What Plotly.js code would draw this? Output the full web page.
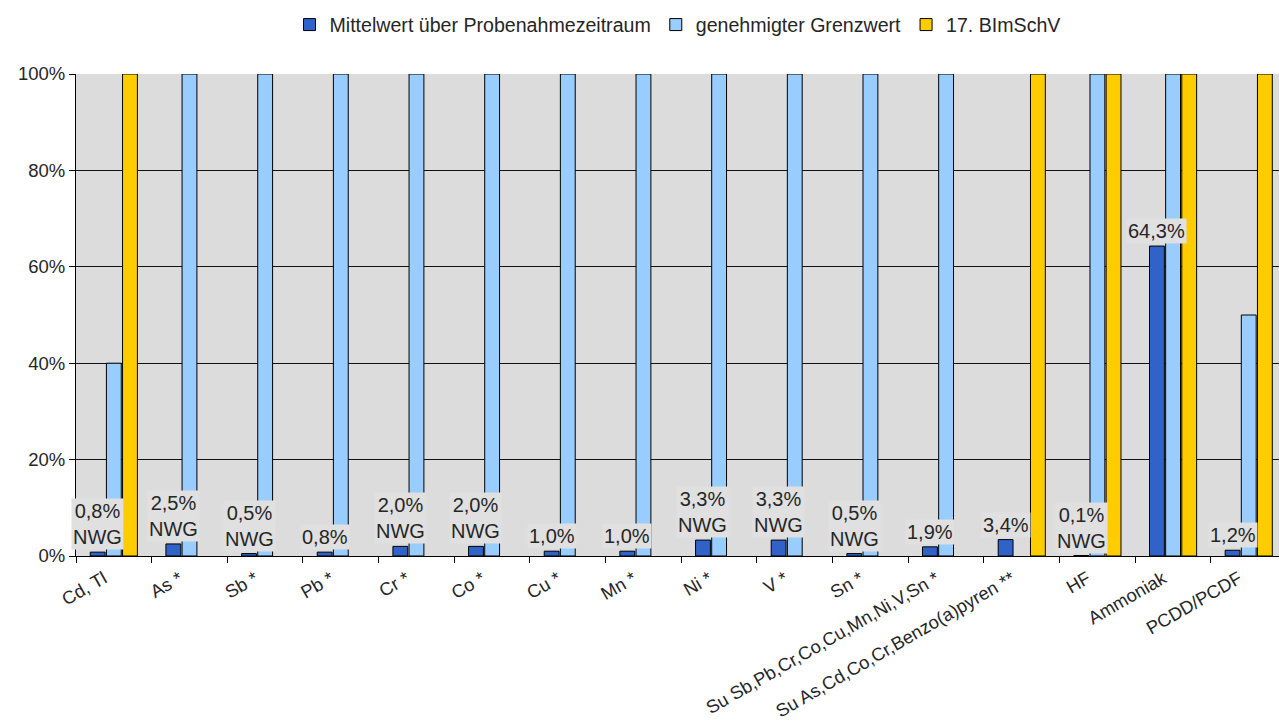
<!DOCTYPE html>
<html>
<head>
<meta charset="utf-8">
<script src="https://cdn.plot.ly/plotly-3.0.1.min.js"></script>
<style>html,body{margin:0;padding:0;background:#fff;}#chart{width:1279px;height:725px;}</style>
</head>
<body>
<div id="chart"></div>
<script>
const categories = ["Cd, Tl", "As *", "Sb *", "Pb *", "Cr *", "Co *", "Cu *", "Mn *", "Ni *", "V *", "Sn *",
  "Su Sb,Pb,Cr,Co,Cu,Mn,Ni,V,Sn *", "Su As,Cd,Co,Cr,Benzo(a)pyren **", "HF", "Ammoniak", "PCDD/PCDF"];
const mittelwert = [0.8, 2.5, 0.5, 0.8, 2.0, 2.0, 1.0, 1.0, 3.3, 3.3, 0.5, 1.9, 3.4, 0.1, 64.3, 1.2];
const grenzwert = [40, 100, 100, 100, 100, 100, 100, 100, 100, 100, 100, 100, null, 100, 100, 50];
const bimschv = [100, null, null, null, null, null, null, null, null, null, null, null, 100, 100, 100, 100];
const labels = ["0,8%<br>NWG", "2,5%<br>NWG", "0,5%<br>NWG", "0,8%", "2,0%<br>NWG", "2,0%<br>NWG", "1,0%", "1,0%",
  "3,3%<br>NWG", "3,3%<br>NWG", "0,5%<br>NWG", "1,9%", "3,4%", "0,1%<br>NWG", "64,3%", "1,2%"];
const seriesNames = ["Mittelwert über Probenahmezeitraum", "genehmigter Grenzwert", "17. BImSchV"];
const yTickVals = [0, 20, 40, 60, 80, 100];
const yTickText = ["0%", "20%", "40%", "60%", "80%", "100%"];

const FONT = "Liberation Sans, Arial, sans-serif";
const bargap = 0.36, bargroupgap = 0.08;
const xRange = [-0.5, 15.4];
const marginL = 76, marginR = 0, W = 1279;
const catPx = (W - marginL - marginR) / (xRange[1] - xRange[0]);
const slotPx = catPx * (1 - bargap) / 3;

const line = {color: "#000", width: 1};
const traces = [
  {type: "bar", name: seriesNames[0], x: categories, y: mittelwert, marker: {color: "#3062C8", line: line}},
  {type: "bar", name: seriesNames[1], x: categories, y: grenzwert, marker: {color: "#99CCFF", line: line}},
  {type: "bar", name: seriesNames[2], x: categories, y: bimschv, marker: {color: "#FFCC00", line: line}}
];

const annotations = categories.map((c, i) => ({
  x: c, y: mittelwert[i], xref: "x", yref: "y",
  text: labels[i], showarrow: false,
  xanchor: "center", yanchor: "bottom",
  xshift: -slotPx, yshift: 2,
  font: {family: FONT, size: 20, color: "#262626"},
  bgcolor: "#E0E0E0", borderpad: 1
}));

const layout = {
  width: W, height: 725,
  margin: {l: marginL, r: marginR, t: 74, b: 169},
  paper_bgcolor: "#fff",
  plot_bgcolor: "#DCDCDC",
  barmode: "group", bargap: bargap, bargroupgap: bargroupgap,
  font: {family: FONT, size: 18, color: "#262626"},
  showlegend: true,
  legend: {orientation: "h", x: 0.5, xanchor: "center", y: 1.102, yanchor: "middle",
    font: {family: FONT, size: 19.6, color: "#262626"}, traceorder: "normal"},
  xaxis: {type: "category", range: xRange, tickangle: -30, tickson: "boundaries",
    ticks: "outside", ticklen: 6, tickcolor: "#000", showline: true, linecolor: "#000", linewidth: 1,
    ticklabelstandoff: 4, ticklabelshift: -10,
    showgrid: false, tickfont: {family: FONT, size: 18.3, color: "#262626"}, automargin: false},
  yaxis: {range: [0, 100], tickmode: "array", tickvals: yTickVals, ticktext: yTickText,
    ticks: "outside", ticklen: 6, tickcolor: "#000", showline: true, linecolor: "#000", linewidth: 1,
    showgrid: true, gridcolor: "#111", gridwidth: 1, zeroline: false,
    tickfont: {family: FONT, size: 18.5, color: "#262626"}, automargin: false},
  annotations: annotations
};

Plotly.newPlot("chart", traces, layout, {staticPlot: true, displayModeBar: false});
</script>
</body>
</html>
